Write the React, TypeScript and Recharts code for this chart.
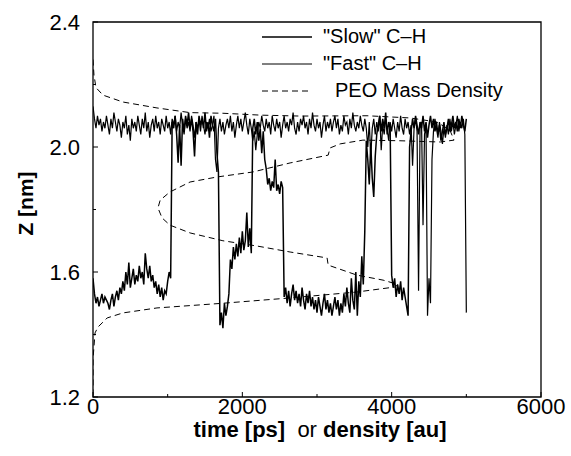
import React from "react";
import { LineChart, Line, XAxis, YAxis, Legend, ReferenceArea } from "recharts";

// time grid of the two C-H trajectories (one value every STEP_PS picoseconds)
const STEP_PS = 20;

const SLOW_Z = [
  1.58, 1.53, 1.50, 1.52, 1.49, 1.51, 1.53, 1.50, 1.52, 1.51,
  1.50, 1.48, 1.51, 1.53, 1.49, 1.52, 1.54, 1.51, 1.55, 1.53,
  1.57, 1.54, 1.60, 1.56, 1.63, 1.55, 1.58, 1.61, 1.56, 1.59,
  1.57, 1.62, 1.58, 1.60, 1.56, 1.66, 1.61, 1.58, 1.62, 1.57,
  1.59, 1.55, 1.57, 1.53, 1.56, 1.52, 1.55, 1.51, 1.54, 1.53,
  1.57, 1.60, 1.58, 2.08, 2.06, 2.10, 2.04, 1.95, 2.07, 1.94,
  2.09, 2.05, 2.10, 2.07, 2.11, 2.06, 2.09, 2.05, 1.97, 2.08,
  2.04, 2.10, 2.07, 2.09, 2.06, 2.11, 2.05, 2.08, 2.03, 2.10,
  2.07, 2.05, 2.09, 1.98, 1.92, 1.43, 1.47, 1.42, 1.50, 1.46,
  1.49, 1.53, 1.64, 1.61, 1.68, 1.64, 1.69, 1.65, 1.71, 1.66,
  1.73, 1.67, 1.70, 1.79, 1.68, 1.74, 1.66, 2.06, 2.09, 2.04,
  2.08, 2.02, 2.06, 1.98, 2.05, 1.96, 1.93, 1.88, 1.90, 1.86,
  1.89, 1.87, 1.96, 1.86, 1.88, 1.85, 1.89, 1.87, 1.52, 1.55,
  1.50, 1.54, 1.49, 1.53, 1.56, 1.51, 1.54, 1.50, 1.53, 1.49,
  1.55, 1.51, 1.48, 1.53, 1.50, 1.54, 1.49, 1.52, 1.48, 1.51,
  1.47, 1.52, 1.49, 1.46, 1.50, 1.53, 1.48, 1.51, 1.47, 1.50,
  1.46, 1.49, 1.52, 1.48, 1.51, 1.46, 1.50, 1.47, 1.53, 1.49,
  1.55, 1.50, 1.47, 1.58, 1.51, 1.48, 1.60, 1.46, 1.57, 1.52,
  1.65, 1.56, 1.73, 2.02, 1.96, 1.88, 2.01, 1.90, 1.84, 1.97,
  2.04, 2.07, 2.10, 2.05, 2.09, 2.06, 2.11, 2.04, 2.08, 2.06,
  1.59, 1.55, 1.58, 1.52, 1.56, 1.53, 1.57, 1.51, 1.55, 1.52,
  1.49, 1.46, 2.00, 2.05, 2.09, 2.06, 2.10, 2.07, 2.04, 2.08,
  2.06, 2.10, 2.05, 2.08, 2.03, 2.07, 2.10, 2.06, 2.09, 2.05,
  2.08, 2.04, 2.07, 2.02, 2.05, 2.08, 2.04, 2.06, 2.09, 2.05,
  2.07, 2.10, 2.06, 2.08, 2.05, 2.09, 2.06, 2.10, 2.07, 2.05,
  2.09,
];

const FAST_Z = [
  2.13, 2.09, 2.06, 2.10, 2.07, 2.09, 2.05, 2.08, 2.06, 2.10,
  2.07, 2.04, 2.09, 2.06, 2.11, 2.08, 2.05, 2.09, 2.07, 2.03,
  2.08, 2.06, 2.10, 2.04, 2.07, 2.02, 2.09, 2.06, 2.08, 2.05,
  2.10, 2.07, 2.04, 2.09, 2.06, 2.11, 2.05, 2.08, 2.03, 2.07,
  2.09, 2.05, 2.10, 2.06, 2.08, 2.04, 2.09, 2.07, 2.05, 2.10,
  2.06, 2.08, 2.04, 2.09, 2.07, 2.10, 2.05, 2.08, 2.06, 2.11,
  2.07, 2.04, 2.09, 2.06, 2.08, 2.05, 2.10, 2.07, 2.03, 2.08,
  2.06, 2.09, 2.05, 2.10, 2.07, 2.04, 2.08, 2.06, 2.09, 2.05,
  2.07, 2.10, 1.96, 1.92, 2.06, 2.09, 2.05, 2.08, 2.04, 2.07,
  2.09, 2.06, 2.10, 2.05, 2.08, 2.03, 2.07, 2.10, 2.06, 2.09,
  2.05, 2.08, 2.11, 2.07, 2.04, 2.09, 2.06, 2.02, 2.05, 1.99,
  2.04, 2.08, 2.06, 2.10, 2.07, 2.05, 2.09, 2.06, 2.08, 2.04,
  2.10, 2.07, 2.05, 2.09, 2.06, 2.08, 2.03, 2.07, 2.10, 2.06,
  2.08, 2.05, 2.09, 2.07, 2.11, 2.06, 2.04, 2.08, 2.05, 2.09,
  2.07, 2.10, 2.06, 2.08, 2.04, 2.09, 2.06, 2.11, 2.07, 2.05,
  2.09, 2.06, 2.08, 2.03, 2.07, 2.10, 2.05, 2.08, 2.06, 2.09,
  2.05, 2.08, 2.10, 2.06, 2.09, 2.04, 2.07, 2.05, 2.10, 2.07,
  2.08, 2.04, 2.09, 2.06, 2.11, 2.07, 2.05, 2.08, 2.06, 2.10,
  2.07, 2.05, 2.09, 2.06, 2.00, 2.08, 1.97, 2.06, 2.09, 2.04,
  2.08, 2.05, 2.10, 1.99, 2.07, 2.04, 2.09, 2.06, 2.02, 2.08,
  2.05, 2.09, 2.06, 2.03, 2.08, 2.05, 2.10, 2.06, 2.04, 2.09,
  2.06, 2.08, 2.04, 2.07, 1.94, 2.06, 2.09, 2.05, 1.54, 2.06,
  2.08, 1.75, 2.04, 2.07, 1.46, 1.58, 1.50, 1.96, 2.05, 2.09,
  2.06, 2.03, 2.08, 2.05, 2.01, 2.06, 2.03, 2.07, 2.04, 2.09,
  2.05, 2.08, 2.04, 2.07, 2.10, 2.05, 2.08, 2.06, 2.09, 2.04,
  1.47,
];

// PEO mass density profile, traced from top (large z) to bottom
const DENSITY_AU = [
  0, 13, 40, 134, 400, 857, 1300, 1740, 2240, 2770, 3670, 4245, 4605, 4780, 4835,
  4650, 4110, 3615, 3310, 3175, 3150, 2640, 2140, 1660, 1300, 1030, 900, 870, 925,
  1030, 1300, 1740, 2200, 2640, 3135, 3150, 3535, 3885, 4085, 4045, 3535, 2640, 1740,
  857, 400, 190, 67, 27, 0, 0,
];
const DENSITY_Z = [
  2.28, 2.23, 2.19, 2.166, 2.144, 2.125, 2.11, 2.108, 2.102, 2.099, 2.1, 2.093, 2.08, 2.054, 2.022,
  2.016, 2.02, 2.022, 2.01, 1.997, 1.974, 1.949, 1.92, 1.904, 1.888, 1.856, 1.83, 1.805, 1.773,
  1.75, 1.725, 1.7, 1.683, 1.664, 1.645, 1.622, 1.59, 1.574, 1.56, 1.552, 1.536, 1.517, 1.5,
  1.485, 1.469, 1.453, 1.424, 1.405, 1.32, 1.2,
];

const X_TICKS = [0, 1000, 2000, 3000, 4000, 5000, 6000];
const X_LABELS = [0, 2000, 4000, 6000];
const Y_TICKS = [1.2, 1.4, 1.6, 1.8, 2.0, 2.2, 2.4];
const Y_LABELS = [1.2, 1.6, 2.0, 2.4];

const LEGEND_ITEMS = [
  { name: '"Slow" C\u2013H', width: 1.6, dash: undefined, gap: 11 },
  { name: '"Fast" C\u2013H', width: 1, dash: undefined, gap: 11 },
  { name: "PEO Mass Density", width: 1, dash: "6 4", gap: 23 },
];

const FONT = '"Liberation Sans", Arial, Helvetica, sans-serif';

const slowData = SLOW_Z.map((z, i) => ({ x: i * STEP_PS, y: z }));
const fastData = FAST_Z.map((z, i) => ({ x: i * STEP_PS, y: z }));
const densityData = DENSITY_AU.map((d, i) => ({ x: d, y: DENSITY_Z[i] }));

const XTick = ({ x, y, payload }: any) => {
  const major = X_LABELS.includes(payload.value);
  return (
    <g>
      <line x1={x} x2={x} y1={y} y2={y - (major ? 5 : 3)} stroke="#000" />
      {major && (
        <text x={x} y={y + 1} dy="0.71em" textAnchor="middle" fontSize={22} fill="#000" fontFamily={FONT}>
          {payload.value}
        </text>
      )}
    </g>
  );
};

const YTick = ({ x, y, payload }: any) => {
  const major = Y_LABELS.includes(payload.value);
  return (
    <g>
      <line x1={x} x2={x + (major ? 5 : 3)} y1={y} y2={y} stroke="#000" />
      {major && (
        <text x={x - 13} y={y} dy="0.355em" textAnchor="end" fontSize={22} fill="#000" fontFamily={FONT}>
          {payload.value.toFixed(1)}
        </text>
      )}
    </g>
  );
};

const XTitle = ({ viewBox }: any) => (
  <text
    x={viewBox.x + viewBox.width / 2 + 3}
    y={viewBox.y + 40}
    textAnchor="middle"
    fontSize={22}
    fill="#000"
    fontFamily={FONT}
    style={{ whiteSpace: "pre" }}
  >
    <tspan fontWeight="bold">time [ps]</tspan>
    <tspan>{"  or "}</tspan>
    <tspan fontWeight="bold">density [au]</tspan>
  </text>
);

const YTitle = ({ viewBox }: any) => {
  const cx = viewBox.x + 25;
  const cy = viewBox.y + viewBox.height / 2 - 6;
  return (
    <text
      x={cx}
      y={cy}
      transform={`rotate(-90, ${cx}, ${cy})`}
      textAnchor="middle"
      dominantBaseline="central"
      fontSize={21}
      fontWeight="bold"
      fill="#000"
      fontFamily={FONT}
    >
      Z [nm]
    </text>
  );
};

const renderLegend = () => (
  <div style={{ fontFamily: FONT, fontSize: 20, color: "#000" }}>
    {LEGEND_ITEMS.map((item) => (
      <div key={item.name} style={{ display: "flex", alignItems: "center", height: 27 }}>
        <svg width={50} height={6}>
          <line x1={0} x2={50} y1={3} y2={3} stroke="#000" strokeWidth={item.width} strokeDasharray={item.dash} />
        </svg>
        <span style={{ marginLeft: item.gap, whiteSpace: "pre" }}>{item.name}</span>
      </div>
    ))}
  </div>
);

export default function App() {
  return (
    <div style={{ position: "absolute", left: 0, top: 0, width: 571, height: 456, background: "#fff" }}>
      <LineChart width={571} height={456} margin={{ top: 22, right: 30, bottom: 0, left: 0 }}>
        <XAxis
          type="number"
          dataKey="x"
          domain={[0, 6000]}
          ticks={X_TICKS}
          interval={0}
          height={59}
          axisLine={false}
          tickLine={false}
          tickSize={0}
          tickMargin={0}
          tick={<XTick />}
          label={<XTitle />}
          allowDataOverflow
        />
        <YAxis
          type="number"
          domain={[1.2, 2.4]}
          ticks={Y_TICKS}
          interval={0}
          width={93}
          axisLine={false}
          tickLine={false}
          tickSize={0}
          tickMargin={0}
          tick={<YTick />}
          label={<YTitle />}
          allowDataOverflow
        />
        <Legend
          layout="vertical"
          align="center"
          verticalAlign="middle"
          wrapperStyle={{ top: 23, left: 262, width: "auto" }}
          content={renderLegend}
        />
        <Line
          data={densityData}
          dataKey="y"
          name="PEO Mass Density"
          stroke="#000"
          strokeWidth={1}
          strokeDasharray="6 4"
          dot={false}
          isAnimationActive={false}
        />
        <Line
          data={fastData}
          dataKey="y"
          name={'"Fast" C-H'}
          stroke="#000"
          strokeWidth={1.2}
          dot={false}
          isAnimationActive={false}
        />
        <Line
          data={slowData}
          dataKey="y"
          name={'"Slow" C-H'}
          stroke="#000"
          strokeWidth={1.5}
          dot={false}
          isAnimationActive={false}
        />
        <ReferenceArea x1={0} x2={6000} y1={1.2} y2={2.4} fill="none" stroke="#000" strokeWidth={1.3} ifOverflow="visible" />
      </LineChart>
    </div>
  );
}
